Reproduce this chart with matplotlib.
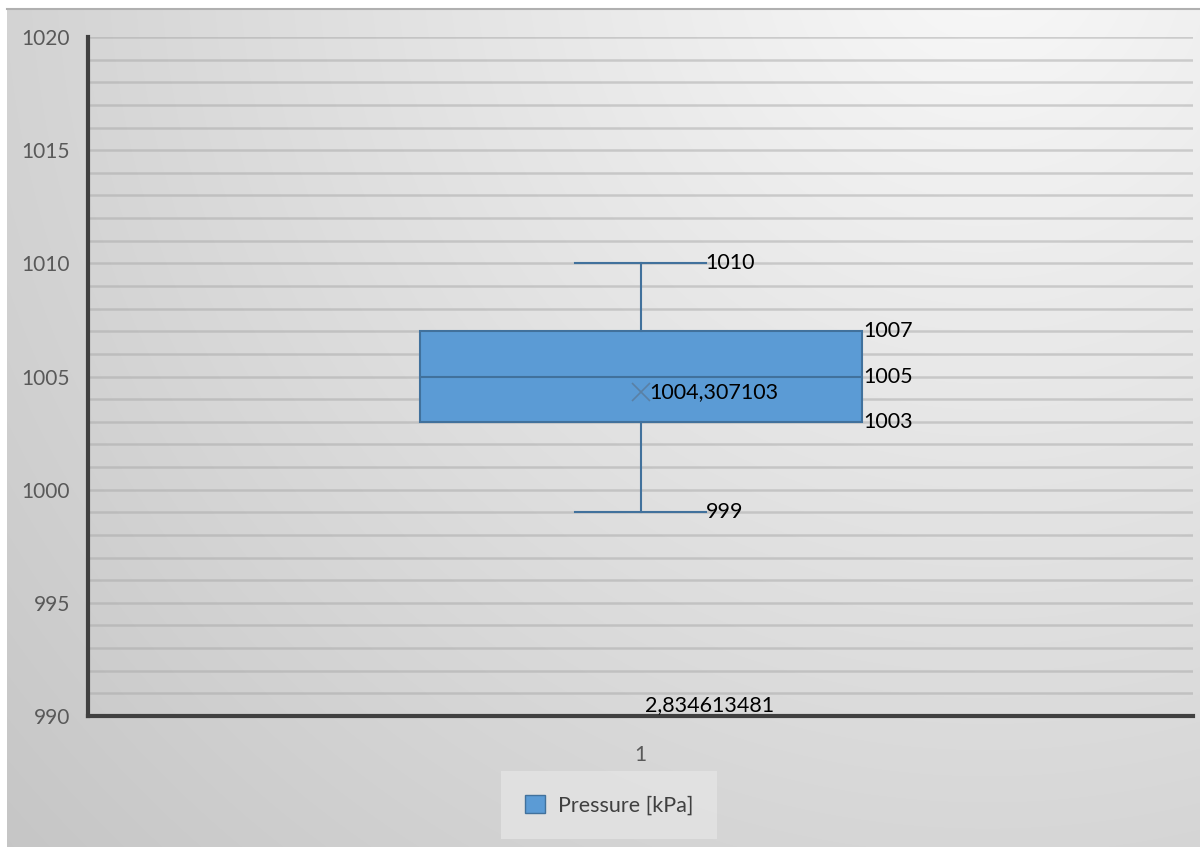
import matplotlib.pyplot as plt
import numpy as np
from matplotlib.patches import Patch

# box plot values
series_name = 'Pressure [kPa]'
x_labels = ['1']
whisker_low = [999]
q1 = [1003]
median = [1005]
q3 = [1007]
whisker_high = [1010]
mean = [1004.307103]
extra_label = ['2,834613481']

plt.rcParams['font.family'] = ['Lato', 'DejaVu Sans']

fig = plt.figure(figsize=(12, 8.47), dpi=100)
fig.patch.set_facecolor('white')

# background: radial gradient, light at top right, grey at bottom left
bg = fig.add_axes([7 / 1200, 0, 1 - 7 / 1200, 1 - 9 / 847])
w, h = 1193, 838
yy, xx = np.mgrid[0:h, 0:w]
r = np.sqrt((xx - 980) ** 2 + (yy + 60) ** 2)
g = np.clip(0.975 - r * 0.00015, 0.76, 1)
bg.imshow(np.dstack([g, g, g]), aspect='auto', extent=[0, 1, 0, 1])
bg.axis('off')
bg.plot([0, 1], [1, 1], color='#b0b0b0', lw=1.5, transform=bg.transAxes, clip_on=False)

ax = fig.add_axes([88 / 1200, 1 - 716 / 847, (1193 - 88) / 1200, (716 - 37) / 847])
ax.patch.set_alpha(0)

stats = [{
    'whislo': whisker_low[0], 'q1': q1[0], 'med': median[0], 'q3': q3[0],
    'whishi': whisker_high[0], 'mean': mean[0], 'label': x_labels[0],
}]
blue = '#5B9BD5'
edge = '#41719C'
ax.bxp(stats, positions=[1], widths=0.4, capwidths=0.118, showmeans=True,
       showfliers=False, patch_artist=True,
       boxprops=dict(facecolor=blue, edgecolor=edge, linewidth=1.5),
       medianprops=dict(color=edge, linewidth=1.5),
       whiskerprops=dict(color=edge, linewidth=1.5),
       capprops=dict(color=edge, linewidth=1.5),
       meanprops=dict(marker='x', markeredgecolor='#5a7a9a', markersize=13,
                      markeredgewidth=1.2, alpha=0.8),
       zorder=3)

ax.set_xlim(0.5, 1.5)
ax.set_ylim(990, 1020)
ax.set_yticks(np.arange(990, 1021, 5))
ax.set_yticks(np.arange(990, 1021, 1), minor=True)
ax.grid(axis='y', which='both', color='#a8a8a8', linewidth=1.8, alpha=0.5, zorder=0)
ax.set_axisbelow(True)
ax.tick_params(axis='both', which='both', length=0, labelsize=15, colors='#595959')
ax.tick_params(axis='y', pad=13)
ax.tick_params(axis='x', pad=21)
for s in ['top', 'right']:
    ax.spines[s].set_visible(False)
for s in ['left', 'bottom']:
    ax.spines[s].set_color('#404040')
    ax.spines[s].set_linewidth(3)

# data labels
lab = dict(fontsize=15.5, color='black', va='center', zorder=5)
cap_half = 0.118 / 2
ax.annotate(str(whisker_high[0]), (1 + cap_half, whisker_high[0]), **lab)
ax.annotate(str(whisker_low[0]), (1 + cap_half, whisker_low[0]), **lab)
for v in [q3[0], median[0], q1[0]]:
    ax.annotate(str(v), (1.2, v), xytext=(1, 0), textcoords='offset points', **lab)
ax.annotate('{:.6f}'.format(mean[0]).replace('.', ','), (1, mean[0]),
            xytext=(6, 0), textcoords='offset points', **lab)
ax.annotate(extra_label[0], (1, 990), xytext=(3, 1), textcoords='offset points',
            fontsize=15.5, color='black', va='bottom', ha='left', zorder=5)

leg = fig.legend(handles=[Patch(facecolor=blue, edgecolor=edge, label=series_name)],
                 loc='center', bbox_to_anchor=(609 / 1200, 1 - 805 / 847),
                 fontsize=15.5, frameon=True, fancybox=False, borderpad=1.1,
                 handlelength=0.95, handleheight=0.95, handletextpad=0.6)
leg.get_frame().set_facecolor('#e4e4e4')
leg.get_frame().set_edgecolor('none')
for t in leg.get_texts():
    t.set_color('#404040')

fig.savefig('out.png', dpi=100)
